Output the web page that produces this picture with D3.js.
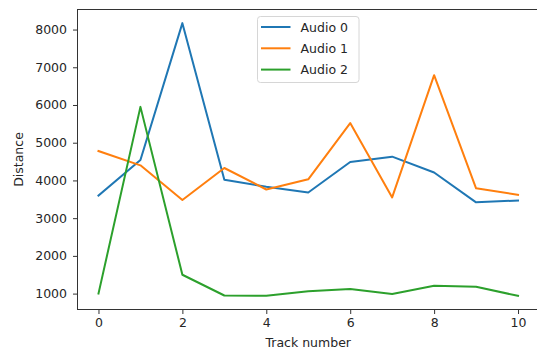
<!DOCTYPE html>
<html>
<head>
<meta charset="utf-8">
<script src="https://cdn.jsdelivr.net/npm/d3@7/dist/d3.min.js"></script>
<style>
  html, body { margin: 0; padding: 0; background: #fff; }
  svg { display: block; font-family: "DejaVu Sans", sans-serif; }
</style>
</head>
<body>
<svg id="chart" width="537" height="351"></svg>
<script>
// Track indices along the x axis
const tracks = [0, 1, 2, 3, 4, 5, 6, 7, 8, 9, 10];

// Distance per track for each audio clip
const audio0 = [3600, 4540, 8170, 4020, 3830, 3680, 4490, 4630, 4210, 3420, 3470];
const audio1 = [4780, 4400, 3480, 4330, 3760, 4030, 5520, 3550, 6790, 3790, 3620];
const audio2 = [1000, 5950, 1500, 950, 940, 1060, 1120, 990, 1210, 1180, 940];

const seriesNames = ["Audio 0", "Audio 1", "Audio 2"];
const seriesColors = ["#1f77b4", "#ff7f0e", "#2ca02c"];

const xTicks = [0, 2, 4, 6, 8, 10];
const yTicks = [1000, 2000, 3000, 4000, 5000, 6000, 7000, 8000];

const series = [audio0, audio1, audio2].map((vals, i) => ({
  name: seriesNames[i],
  color: seriesColors[i],
  points: tracks.map((t, j) => ({ x: t, y: vals[j] }))
}));

const svg = d3.select("#chart");
const plot = { left: 77.5, right: 539, top: 9.5, bottom: 309.5 };

// 5% padding around the data extent on both axes
const xExt = d3.extent(tracks);
const xPad = (xExt[1] - xExt[0]) * 0.05;
const allY = [...audio0, ...audio1, ...audio2];
const yExt = d3.extent(allY);
const yPad = (yExt[1] - yExt[0]) * 0.05;

const x = d3.scaleLinear().domain([xExt[0] - xPad, xExt[1] + xPad]).range([plot.left, plot.right]);
const y = d3.scaleLinear().domain([yExt[0] - yPad, yExt[1] + yPad]).range([plot.bottom, plot.top]);

const fontSize = "12.5px";
const textColor = "#262626";

// Lines
const line = d3.line().x(d => x(d.x)).y(d => y(d.y));
svg.append("g").selectAll("path").data(series).join("path")
  .attr("d", d => line(d.points))
  .attr("fill", "none")
  .attr("stroke", d => d.color)
  .attr("stroke-width", 2)
  .attr("stroke-linejoin", "round")
  .attr("stroke-linecap", "square");

// Axes
const xAxis = d3.axisBottom(x).tickValues(xTicks).tickFormat(d3.format("d")).tickSize(4.5).tickPadding(4);
const yAxis = d3.axisLeft(y).tickValues(yTicks).tickFormat(d3.format("d")).tickSize(4.5).tickPadding(6);

const gx = svg.append("g").attr("transform", `translate(0,${plot.bottom})`).call(xAxis);
const gy = svg.append("g").attr("transform", `translate(${plot.left},0)`).call(yAxis);
[gx, gy].forEach(g => {
  g.select(".domain").remove();
  g.selectAll(".tick line").attr("stroke", "#333").attr("stroke-width", 1);
  g.selectAll(".tick text").attr("fill", textColor).style("font-size", fontSize)
    .style("font-family", '"DejaVu Sans", sans-serif');
});

// Frame
svg.append("rect")
  .attr("x", plot.left).attr("y", plot.top)
  .attr("width", plot.right - plot.left).attr("height", plot.bottom - plot.top)
  .attr("fill", "none").attr("stroke", "#333").attr("stroke-width", 1);

// Axis titles
svg.append("text")
  .attr("x", (plot.left + plot.right) / 2).attr("y", 347)
  .attr("text-anchor", "middle").attr("fill", textColor).style("font-size", fontSize)
  .text("Track number");
svg.append("text")
  .attr("transform", `translate(23,${(plot.top + plot.bottom) / 2}) rotate(-90)`)
  .attr("text-anchor", "middle").attr("fill", textColor).style("font-size", fontSize)
  .text("Distance");

// Legend
const lg = svg.append("g").attr("transform", "translate(257.5,16.5)");
lg.append("rect")
  .attr("width", 101.5).attr("height", 66)
  .attr("rx", 3).attr("ry", 3)
  .attr("fill", "rgba(255,255,255,0.8)").attr("stroke", "#d6d6d6").attr("stroke-width", 1);
const items = lg.selectAll("g.item").data(series).join("g")
  .attr("class", "item")
  .attr("transform", (d, i) => `translate(0,${10.5 + i * 21.3})`);
items.append("line")
  .attr("x1", 3.5).attr("x2", 33).attr("y1", 0).attr("y2", 0)
  .attr("stroke", d => d.color).attr("stroke-width", 2);
items.append("text")
  .attr("x", 43).attr("y", 4.5)
  .attr("fill", textColor).style("font-size", fontSize)
  .text(d => d.name);
</script>
</body>
</html>
